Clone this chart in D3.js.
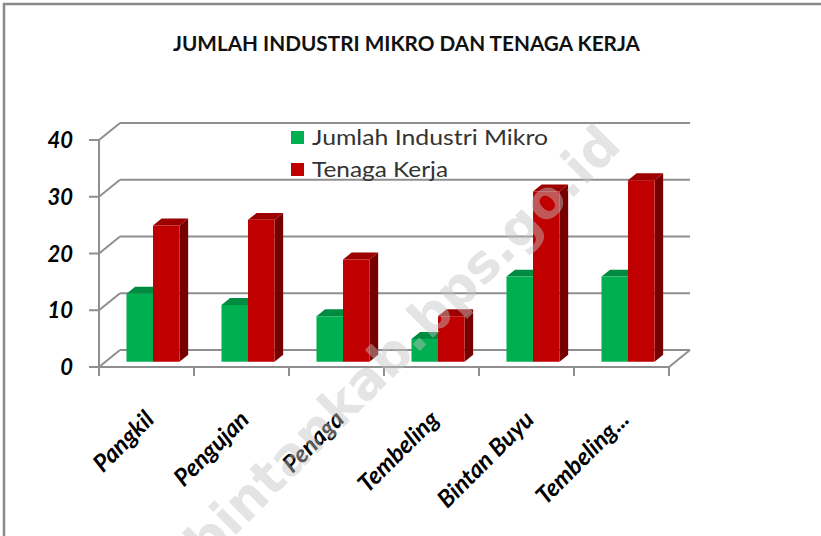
<!DOCTYPE html>
<html>
<head>
<meta charset="utf-8">
<script src="https://cdn.jsdelivr.net/npm/d3@7"></script>
<style>
  body { margin: 0; background: #fff; }
  svg { display: block; }
</style>
</head>
<body>
<svg id="svg" width="821" height="536"></svg>
<script>
// data
const categories = ["Pangkil", "Pengujan", "Penaga", "Tembeling", "Bintan Buyu", "Tembeling..."];
const industriMikro = [12, 10, 8, 4, 15, 15];
const tenagaKerja = [24, 25, 18, 8, 30, 32];
const seriesNames = ["Jumlah Industri Mikro", "Tenaga Kerja"];
const yTicks = [0, 10, 20, 30, 40];

const svg = d3.select("#svg");
const width = +svg.attr("width");
const height = +svg.attr("height");

const font = "Lato, 'Open Sans', sans-serif";
const gridColor = "#8f8f8f";

// kolom: depan, atas, samping
const colors = [
  { front: "#00b050", top: "#008c40", side: "#007a36" },
  { front: "#c00000", top: "#9c0000", side: "#760000" }
];

// kedalaman 3D (offset dinding belakang)
const depth = { dx: 21, dy: -17 };
const barT0 = 0.31, barT1 = 0.72;   // posisi depan/belakang batang

const x = d3.scaleBand().domain(categories).range([99, 669]);
const xInner = d3.scaleBand().domain(d3.range(seriesNames.length))
  .range([0, x.bandwidth()]).paddingOuter(0.79);
const y = d3.scaleLinear().domain([0, 40]).range([367, 140]);

// bingkai luar
svg.append("rect")
  .attr("x", 4).attr("y", 4)
  .attr("width", width + 20).attr("height", height + 20)
  .attr("fill", "#fff")
  .attr("stroke", "#8a8a8a")
  .attr("stroke-width", 2.5);

// judul
svg.append("text")
  .attr("x", 406.5).attr("y", 51)
  .attr("text-anchor", "middle")
  .attr("font-family", font)
  .attr("font-weight", "bold")
  .attr("font-size", 20)
  .attr("textLength", 467)
  .attr("lengthAdjust", "spacingAndGlyphs")
  .attr("fill", "#111")
  .text("JUMLAH INDUSTRI MIKRO DAN TENAGA KERJA");

const x0 = x.range()[0], x1 = x.range()[1];

// garis grid dinding belakang
svg.selectAll("line.grid")
  .data(yTicks)
  .enter()
  .append("line")
  .attr("class", "grid")
  .attr("x1", x0 + depth.dx)
  .attr("x2", x1 + depth.dx)
  .attr("y1", d => y(d) + depth.dy)
  .attr("y2", d => y(d) + depth.dy)
  .attr("stroke", gridColor)
  .attr("stroke-width", 2);

// diagonal dinding samping
svg.selectAll("line.side")
  .data(yTicks)
  .enter()
  .append("line")
  .attr("class", "side")
  .attr("x1", x0)
  .attr("x2", x0 + depth.dx)
  .attr("y1", d => y(d))
  .attr("y2", d => y(d) + depth.dy)
  .attr("stroke", gridColor)
  .attr("stroke-width", 2);

// lantai: tepi kanan
svg.append("line")
  .attr("x1", x1).attr("y1", y(0))
  .attr("x2", x1 + depth.dx).attr("y2", y(0) + depth.dy)
  .attr("stroke", gridColor)
  .attr("stroke-width", 2);

// sumbu Y
svg.append("line")
  .attr("x1", x0).attr("x2", x0)
  .attr("y1", y(0)).attr("y2", y(40))
  .attr("stroke", gridColor)
  .attr("stroke-width", 2);

svg.selectAll("line.ytick")
  .data(yTicks)
  .enter()
  .append("line")
  .attr("x1", x0 - 10).attr("x2", x0)
  .attr("y1", d => y(d)).attr("y2", d => y(d))
  .attr("stroke", gridColor)
  .attr("stroke-width", 2);

svg.selectAll("text.ylabel")
  .data(yTicks)
  .enter()
  .append("text")
  .attr("x", 73)
  .attr("y", d => y(d) + 8)
  .attr("text-anchor", "end")
  .attr("font-family", font)
  .attr("font-weight", "bold")
  .attr("font-style", "italic")
  .attr("font-size", 22)
  .attr("fill", "#000")
  .text(d => d);

// sumbu X
svg.append("line")
  .attr("x1", x0).attr("x2", x1)
  .attr("y1", y(0)).attr("y2", y(0))
  .attr("stroke", gridColor)
  .attr("stroke-width", 2);

svg.selectAll("line.xtick")
  .data(categories.concat(["__end"]))
  .enter()
  .append("line")
  .attr("x1", (d, i) => i < categories.length ? x(d) : x1)
  .attr("x2", (d, i) => i < categories.length ? x(d) : x1)
  .attr("y1", y(0)).attr("y2", y(0) + 9)
  .attr("stroke", gridColor)
  .attr("stroke-width", 2);

svg.selectAll("text.xlabel")
  .data(categories)
  .enter()
  .append("text")
  .attr("text-anchor", "end")
  .attr("transform", d => `translate(${x(d) + x.bandwidth() / 2 + 9},${y(0) + 54}) rotate(-45)`)
  .attr("font-family", font)
  .attr("font-weight", "bold")
  .attr("font-style", "italic")
  .attr("font-size", 24)
  .attr("fill", "#000")
  .text(d => d);

// batang 3D
const barData = [];
categories.forEach((c, i) => {
  [industriMikro[i], tenagaKerja[i]].forEach((v, s) => {
    barData.push({ cat: c, s: s, v: v });
  });
});

function pt(px, py, t) {
  return [px + depth.dx * t, py + depth.dy * t];
}

const bar = svg.selectAll("g.bar")
  .data(barData)
  .enter()
  .append("g")
  .attr("class", "bar");

bar.each(function(d) {
  const g = d3.select(this);
  const xa = x(d.cat) + xInner(d.s);
  const xb = xa + xInner.bandwidth();
  const yt = y(d.v), yb = y(0);
  const front = [pt(xa, yb, barT0), pt(xb, yb, barT0), pt(xb, yt, barT0), pt(xa, yt, barT0)];
  const side = [pt(xb, yb, barT0), pt(xb, yb, barT1), pt(xb, yt, barT1), pt(xb, yt, barT0)];
  const top = [pt(xa, yt, barT0), pt(xb, yt, barT0), pt(xb, yt, barT1), pt(xa, yt, barT1)];
  const line = d3.line();
  g.append("path").attr("d", line(side) + "Z").attr("fill", colors[d.s].side);
  g.append("path").attr("d", line(top) + "Z").attr("fill", colors[d.s].top);
  g.append("path").attr("d", line(front) + "Z").attr("fill", colors[d.s].front);
});

// legenda
const legendWidths = [236, 136];
const legend = svg.selectAll("g.legend")
  .data(seriesNames)
  .enter()
  .append("g")
  .attr("class", "legend")
  .attr("transform", (d, i) => `translate(291,${131 + i * 32})`);

legend.append("rect")
  .attr("width", 13).attr("height", 13)
  .attr("fill", (d, i) => colors[i].front);

legend.append("text")
  .attr("x", 21).attr("y", 14)
  .attr("font-family", font)
  .attr("font-size", 22)
  .attr("textLength", (d, i) => legendWidths[i])
  .attr("lengthAdjust", "spacingAndGlyphs")
  .attr("fill", "#333")
  .text(d => d);

// watermark
svg.append("text")
  .attr("transform", "translate(402,343) rotate(-45)")
  .attr("text-anchor", "middle")
  .attr("dy", "0.35em")
  .attr("font-family", "'DejaVu Sans', sans-serif")
  .attr("font-weight", "bold")
  .attr("font-size", 52)
  .attr("fill", "#c4c4c4")
  .attr("fill-opacity", 0.45)
  .text("bintankab.bps.go.id");
</script>
</body>
</html>
